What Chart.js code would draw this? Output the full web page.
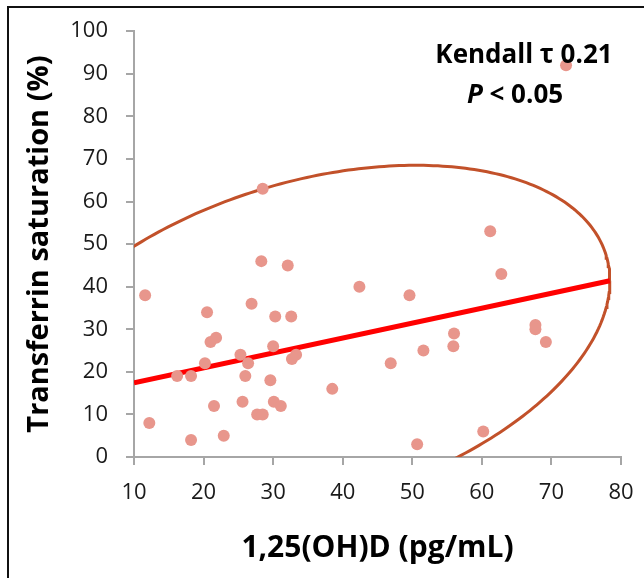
<!DOCTYPE html>
<html>
<head>
<meta charset="utf-8">
<script src="https://cdn.jsdelivr.net/npm/chart.js@4"></script>
<style>
  html, body { margin: 0; padding: 0; background: #fff; }
  #wrap { width: 644px; height: 578px; }
</style>
</head>
<body>
<div id="wrap"><canvas id="chart" width="644" height="578"></canvas></div>
<script>
// scatter values
const vitD = [28.5, 28.3, 32.1, 11.6, 42.4, 20.5, 26.9, 30.3, 32.6, 21.0, 21.8, 30.0,
  25.3, 26.4, 20.2, 32.7, 33.3, 16.2, 18.2, 26.0, 29.6, 38.5, 21.5, 25.6, 30.1, 31.1,
  27.7, 28.5, 12.2, 18.2, 22.9, 61.2, 62.8, 49.6, 56.0, 55.9, 51.6, 67.7, 67.7, 69.2,
  46.9, 60.2, 50.7, 72.1];
const tsat = [63, 46, 45, 38, 40, 34, 36, 33, 33, 27, 28, 26,
  24, 22, 22, 23, 24, 19, 19, 19, 18, 16, 12, 13, 13, 12,
  10, 10, 8, 4, 5, 53, 43, 38, 29, 26, 25, 31, 30, 27,
  22, 6, 3, 92];

// trend line ends
const trendX = [10, 78.4];
const trendY = [17.4, 41.4];

// confidence ellipse (data units): centre, x half-width, y terms
const ellCx = 35.6, ellCy = 26.9, ellA = 42.8, ellB = 14.5, ellC = 39.0;

const xTicks = [10, 20, 30, 40, 50, 60, 70, 80];
const yTicks = [0, 10, 20, 30, 40, 50, 60, 70, 80, 90, 100];

const points = vitD.map((x, i) => ({ x, y: tsat[i] }));
const trend = trendX.map((x, i) => ({ x, y: trendY[i] }));
const ellipse = [];
for (let k = 0; k <= 360; k++) {
  const t = (k * Math.PI) / 180;
  ellipse.push({
    x: ellCx + ellA * Math.cos(t),
    y: ellCy + ellB * Math.cos(t) + ellC * Math.sin(t),
  });
}

const FONT = "'Open Sans', 'Liberation Sans', sans-serif";
const AXIS = "#a6a6a6";

const frame = {
  id: "frame",
  beforeDraw(chart) {
    const { ctx } = chart;
    ctx.save();
    ctx.fillStyle = "#fff";
    ctx.fillRect(0, 0, chart.width, chart.height);
    ctx.strokeStyle = "#111";
    ctx.lineWidth = 2;
    ctx.beginPath();
    ctx.moveTo(8, chart.height);
    ctx.lineTo(8, 7);
    ctx.lineTo(chart.width, 7);
    ctx.stroke();
    ctx.restore();
  },
  afterDraw(chart) {
    const { ctx } = chart;
    ctx.save();
    ctx.fillStyle = "#000";
    ctx.textAlign = "center";
    ctx.textBaseline = "alphabetic";
    ctx.font = `bold 26px ${FONT}`;
    ctx.fillText("Kendall τ 0.21", 524, 63);
    // "P < 0.05" with italic P
    const p = "P";
    const rest = " < 0.05";
    ctx.font = `italic bold 26px ${FONT}`;
    const wp = ctx.measureText(p).width;
    ctx.font = `bold 26px ${FONT}`;
    const wr = ctx.measureText(rest).width;
    const x0 = 515 - (wp + wr) / 2;
    ctx.textAlign = "left";
    ctx.font = `italic bold 26px ${FONT}`;
    ctx.fillText(p, x0, 103);
    ctx.font = `bold 26px ${FONT}`;
    ctx.fillText(rest, x0 + wp, 103);
    ctx.restore();
  },
};

new Chart(document.getElementById("chart"), {
  type: "scatter",
  data: {
    datasets: [
      {
        label: "Transferrin saturation",
        data: points,
        backgroundColor: "#e8968c",
        borderColor: "#e8968c",
        pointRadius: 6,
        pointBorderWidth: 0,
        order: 1,
      },
      {
        label: "Trend",
        data: trend,
        showLine: true,
        borderColor: "#ff0000",
        borderWidth: 5,
        pointRadius: 0,
        order: 2,
      },
      {
        label: "Ellipse",
        data: ellipse,
        showLine: true,
        borderColor: "#c2512a",
        borderWidth: 3,
        pointRadius: 0,
        tension: 0,
        order: 3,
      },
    ],
  },
  options: {
    responsive: false,
    animation: false,
    events: [],
    layout: { padding: { left: 0, top: 31, right: 23, bottom: 0 } },
    plugins: { legend: { display: false }, tooltip: { enabled: false } },
    scales: {
      x: {
        type: "linear",
        min: 10,
        max: 80,
        afterBuildTicks: (s) => { s.ticks = xTicks.map((v) => ({ value: v })); },
        afterFit: (s) => {
          s.height = 121;
          s.paddingLeft = 0;
          s.paddingRight = 0;
        },
        border: { color: AXIS, width: 2 },
        grid: { drawOnChartArea: false, color: AXIS, lineWidth: 2, tickLength: 8 },
        ticks: { color: "#1a1a1a", font: { family: FONT, size: 22 }, padding: 15, maxRotation: 0 },
        title: {
          display: true,
          text: "1,25(OH)D (pg/mL)",
          color: "#000",
          font: { family: FONT, size: 30, weight: "bold" },
          padding: { top: 0, bottom: 12 },
        },
      },
      y: {
        type: "linear",
        min: 0,
        max: 100,
        afterBuildTicks: (s) => { s.ticks = yTicks.map((v) => ({ value: v })); },
        afterFit: (s) => { s.width = 134; },
        border: { color: AXIS, width: 2 },
        grid: { drawOnChartArea: false, color: AXIS, lineWidth: 2, tickLength: 8 },
        ticks: { color: "#1a1a1a", font: { family: FONT, size: 22 }, padding: 18 },
        title: {
          display: true,
          text: "Transferrin saturation (%)",
          color: "#000",
          font: { family: FONT, size: 29, weight: "bold" },
          padding: { top: 22, bottom: 0 },
        },
      },
    },
  },
  plugins: [frame],
});
</script>
</body>
</html>
